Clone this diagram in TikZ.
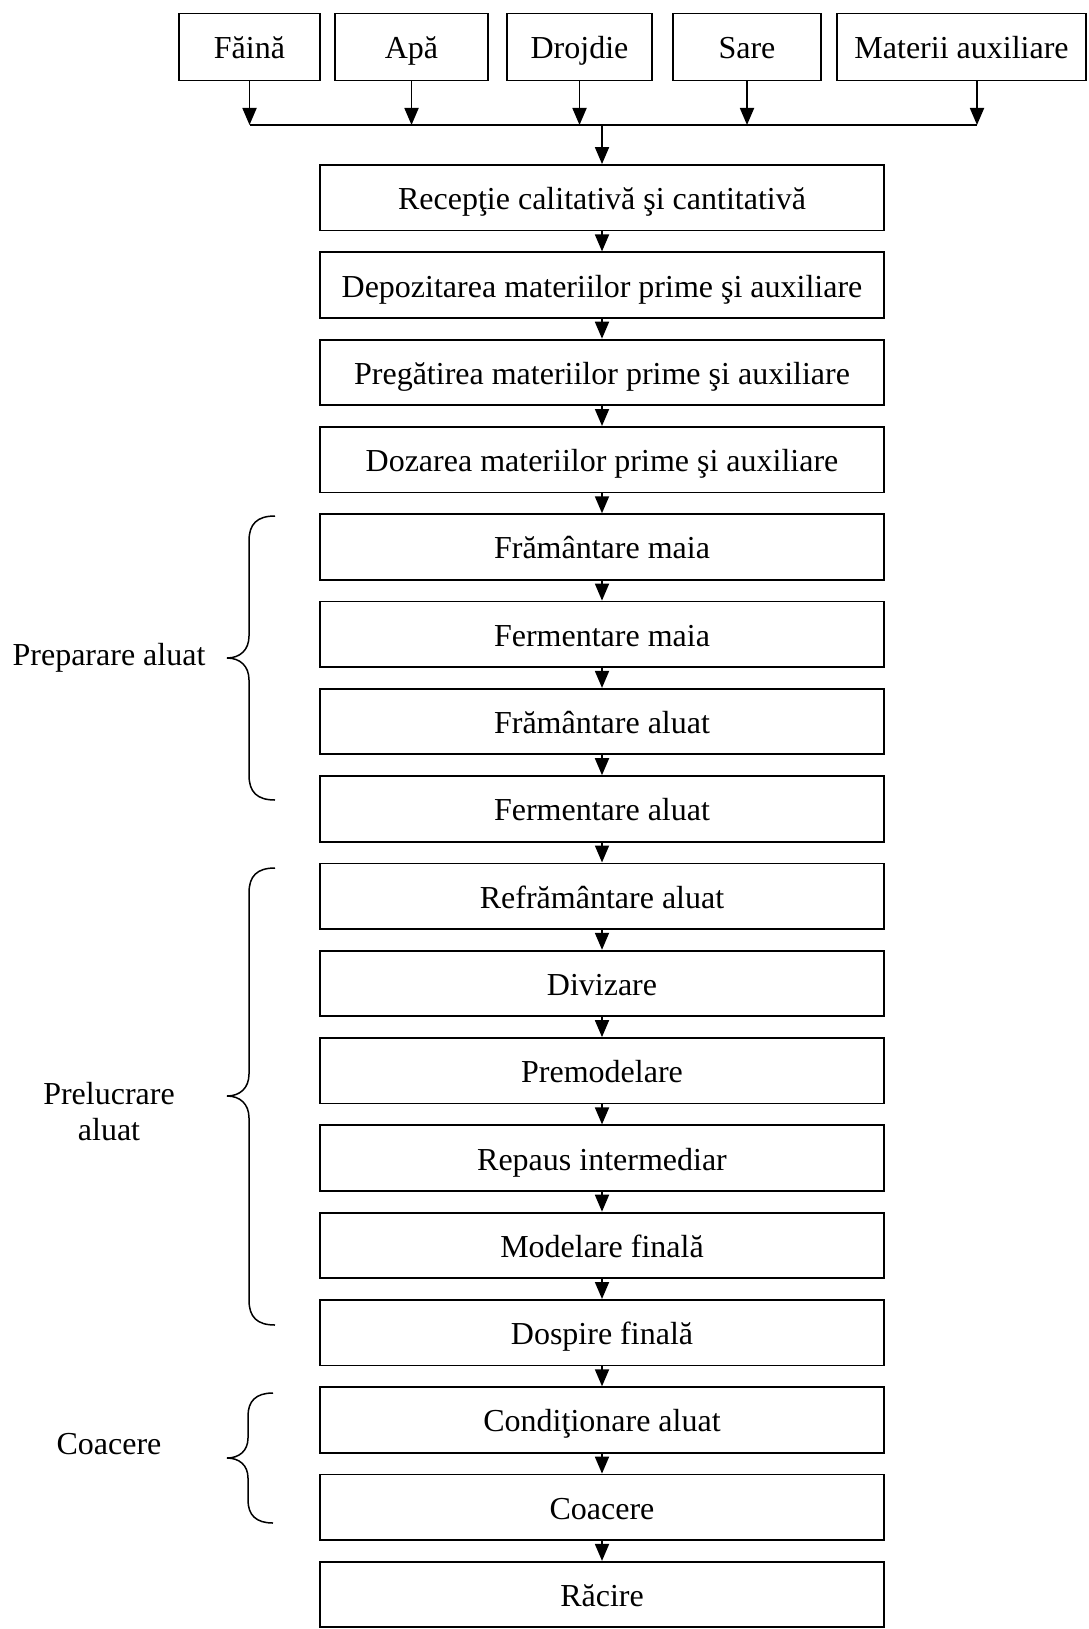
\documentclass[tikz,border=0pt]{standalone}
\usepackage{fontspec}
\setmainfont{Liberation Serif}
\usetikzlibrary{arrows.meta}

\tikzset{
  txt/.style={font=\fontsize{32}{36}\selectfont},
  stepbox/.style={txt, draw, line width=1.8pt, minimum width=564pt, minimum height=65.5pt,
    inner sep=0pt, text height=26pt, text depth=2pt},
  inbox/.style={txt, draw, line width=1.8pt, minimum height=67pt,
    inner sep=0pt, text height=26pt, text depth=2pt},
  arr/.style={line width=1.8pt, -{Triangle[length=17pt,width=14pt]}},
  bar/.style={line width=1.8pt},
  brace/.style={line width=1.5pt},
  grouplabel/.style={txt, align=center}
}

\begin{document}
\begin{tikzpicture}[x=1pt,y=-1pt]
\useasboundingbox (0,0) rectangle (1088,1629);

% raw materials
\node[inbox, minimum width=141pt] (in1) at (249.5,47) {Făină};
\node[inbox, minimum width=153pt] (in2) at (411.5,47) {Apă};
\node[inbox, minimum width=145pt] (in3) at (579.5,47) {Drojdie};
\node[inbox, minimum width=148pt] (in4) at (747,47) {Sare};
\node[inbox, minimum width=249pt] (in5) at (961.5,47) {Materii auxiliare};

% process steps
\foreach \i/\t in {
  0/{Recepţie calitativă şi cantitativă},
  1/{Depozitarea materiilor prime şi auxiliare},
  2/{Pregătirea materiilor prime şi auxiliare},
  3/{Dozarea materiilor prime şi auxiliare},
  4/{Frământare maia},
  5/{Fermentare maia},
  6/{Frământare aluat},
  7/{Fermentare aluat},
  8/{Refrământare aluat},
  9/{Divizare},
  10/{Premodelare},
  11/{Repaus intermediar},
  12/{Modelare finală},
  13/{Dospire finală},
  14/{Condiţionare aluat},
  15/{Coacere},
  16/{Răcire}}
  \node[stepbox] (s\i) at (602,197.75+87.3*\i) {\t};

% collecting bar
\coordinate (barL) at (249.5,125);
\coordinate (barR) at (977,125);
\coordinate (barC) at (602,125);
\draw[bar] (barL) -- (barR);
\draw[arr] (in1.south) -- (in1.south |- barL);
\draw[arr] (in2.south) -- (in2.south |- barL);
\draw[arr] (in3.south) -- (in3.south |- barL);
\draw[arr] (in4.south) -- (in4.south |- barL);
\draw[arr] (in5.south -| barR) -- (barR);
\draw[arr] (barC) -- (s0.north);

% flow between steps
\foreach \i [evaluate=\i as \j using int(\i+1)] in {0,...,15}
  \draw[arr] (s\i.south) -- (s\j.north);

% group braces
\draw[brace] (275,516) .. controls (257,516) and (249,524) .. (249,541)
  -- (249,636) .. controls (249,650) and (240,658) .. (227,658)
  .. controls (240,658) and (249,666) .. (249,680)
  -- (249,775) .. controls (249,792) and (257,800) .. (275,800);
\draw[brace] (275,868) .. controls (257,868) and (249,876) .. (249,893)
  -- (249,1074) .. controls (249,1088) and (240,1096) .. (227,1096)
  .. controls (240,1096) and (249,1104) .. (249,1118)
  -- (249,1300) .. controls (249,1317) and (257,1325) .. (275,1325);
\draw[brace] (273,1393) .. controls (256,1393) and (248,1401) .. (248,1416)
  -- (248,1438) .. controls (248,1451) and (239,1458) .. (227,1458)
  .. controls (239,1458) and (248,1465) .. (248,1478)
  -- (248,1500) .. controls (248,1515) and (256,1523) .. (273,1523);

\node[grouplabel] (g1) at (109,658) {Preparare aluat};
\node[grouplabel] (g2) at (109,1112) {Prelucrare\\aluat};
\node[grouplabel] (g3) at (109,1444) {Coacere};
\end{tikzpicture}
\end{document}
